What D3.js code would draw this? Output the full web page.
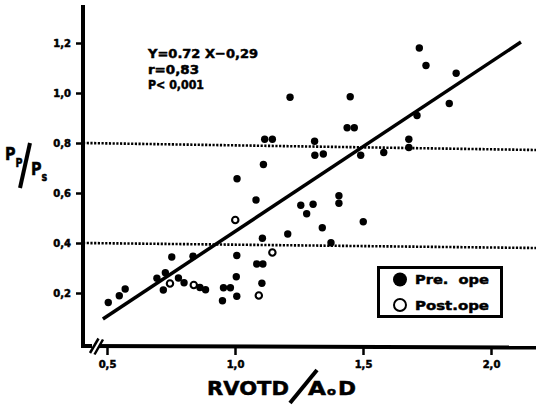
<!DOCTYPE html>
<html>
<head>
<meta charset="utf-8">
<script src="https://cdn.jsdelivr.net/npm/d3@7"></script>
<style>
  body { margin: 0; background: #fff; }
  svg { display: block; }
  text { font-family: "DejaVu Sans", sans-serif; font-weight: bold; fill: #000; stroke: #000; stroke-width: 0.5px; }
</style>
</head>
<body>
<svg id="chart" width="536" height="405"></svg>
<script>
// pre-operative cases (filled dots)
const preX = [0.505, 0.548, 0.571, 0.695, 0.728, 0.720, 0.753, 0.779, 0.801, 0.836,
    0.863, 0.885, 0.951, 0.955, 0.982, 1.007, 1.005, 1.007, 1.008, 1.082,
    1.107, 1.085, 1.109, 1.105, 1.111, 1.116, 1.146, 1.206, 1.215, 1.257,
    1.305, 1.280, 1.311, 1.312, 1.345, 1.341, 1.375, 1.406, 1.406, 1.438,
    1.466, 1.450, 1.491, 1.501, 1.581, 1.679, 1.679, 1.711, 1.720, 1.746,
    1.837, 1.864];
const preY = [0.162, 0.189, 0.216, 0.259, 0.281, 0.212, 0.344, 0.260, 0.241, 0.347,
    0.222, 0.213, 0.169, 0.221, 0.221, 0.350, 0.265, 0.187, 0.657, 0.572,
    0.419, 0.316, 0.316, 0.239, 0.714, 0.815, 0.815, 0.436, 0.983, 0.551,
    0.555, 0.517, 0.807, 0.751, 0.756, 0.461, 0.401, 0.589, 0.559, 0.861,
    0.861, 0.985, 0.751, 0.485, 0.762, 0.815, 0.782, 0.910, 1.180, 1.110,
    0.958, 1.079];

// post-operative cases (open circles)
const postX = [0.746, 0.839, 1.001, 1.093, 1.146];
const postY = [0.238, 0.232, 0.492, 0.190, 0.362];

// regression line as drawn
const fitX = [0.484, 2.117];
const fitY = [0.096, 1.204];

// dotted reference levels (left end, right end)
const refLeft = [0.8, 0.4];
const refRight = [0.772, 0.38];

const xTicks = [0.5, 1.0, 1.5, 2.0];
const yTicks = [0.2, 0.4, 0.6, 0.8, 1.0, 1.2];
const legendLabels = ['Pre.  ope', 'Post.ope'];
const equationLines = ['Y=0.72 X\u22120,29', 'r=0,83', 'P< 0,001'];

const svg = d3.select('#chart');

const plotLeft = 83;
const plotRight = 536;
const plotTop = 7;
const plotBottom = 346;

const x = d3.scaleLinear().domain([0.5, 2.0]).range([107, 491]);
const y = d3.scaleLinear().domain([0, 1.2]).range([343, 43]);

const fmt = d => d3.format('.1f')(d).replace('.', ',');

// y axis
const yAxis = svg.append('g')
    .attr('transform', `translate(${plotLeft},0)`)
    .call(d3.axisLeft(y).tickValues(yTicks).tickSize(7).tickPadding(5).tickFormat(fmt));
yAxis.select('.domain').remove();
yAxis.selectAll('line').attr('stroke', '#000').attr('stroke-width', 2.5);
yAxis.selectAll('text')
    .attr('font-family', '"DejaVu Sans", sans-serif')
    .attr('font-size', 10)
    .attr('font-weight', 'bold');

// x axis
const xAxis = svg.append('g')
    .attr('transform', `translate(0,${plotBottom})`)
    .call(d3.axisBottom(x).tickValues(xTicks).tickSize(9).tickPadding(6).tickFormat(fmt));
xAxis.select('.domain').remove();
xAxis.selectAll('line').attr('stroke', '#000').attr('stroke-width', 2.5);
xAxis.selectAll('text')
    .attr('font-family', '"DejaVu Sans", sans-serif')
    .attr('font-size', 10)
    .attr('font-weight', 'bold');

// heavy axis lines
svg.append('line')
    .attr('x1', plotLeft).attr('y1', plotTop)
    .attr('x2', plotLeft).attr('y2', plotBottom)
    .attr('stroke', '#000').attr('stroke-width', 4).attr('stroke-linecap', 'square');
svg.append('line')
    .attr('x1', plotLeft).attr('y1', plotBottom)
    .attr('x2', plotRight).attr('y2', plotBottom + 1.5)
    .attr('stroke', '#000').attr('stroke-width', 4);

// axis break
svg.append('rect')
    .attr('x', 92).attr('y', plotBottom - 4)
    .attr('width', 7).attr('height', 9)
    .attr('fill', '#fff');
[[90, 353, 98.5, 338.5], [94.5, 354.5, 103, 339.5]].forEach(([a, b, c, d]) => {
    svg.append('line')
        .attr('x1', a).attr('y1', b).attr('x2', c).attr('y2', d)
        .attr('stroke', '#000').attr('stroke-width', 2.5);
});

// dotted reference lines
const xStart = x.invert(plotLeft);
const xEnd = x.invert(plotRight);
refLeft.forEach((v, i) => {
    svg.append('line')
        .attr('x1', x(xStart)).attr('y1', y(v))
        .attr('x2', x(xEnd)).attr('y2', y(refRight[i]))
        .attr('stroke', '#000')
        .attr('stroke-width', 2.6)
        .attr('stroke-dasharray', '2.2 1.5');
});

// regression line
svg.append('path')
    .datum(d3.zip(fitX, fitY))
    .attr('d', d3.line().x(d => x(d[0])).y(d => y(d[1])))
    .attr('stroke', '#000')
    .attr('stroke-width', 3.5)
    .attr('fill', 'none');

// points
svg.append('g').selectAll('circle')
    .data(d3.zip(preX, preY))
    .join('circle')
    .attr('cx', d => x(d[0]))
    .attr('cy', d => y(d[1]))
    .attr('r', 3.7)
    .attr('fill', '#000');

svg.append('g').selectAll('circle')
    .data(d3.zip(postX, postY))
    .join('circle')
    .attr('cx', d => x(d[0]))
    .attr('cy', d => y(d[1]))
    .attr('r', 3.2)
    .attr('fill', '#fff')
    .attr('stroke', '#000')
    .attr('stroke-width', 2.1);

// equation block
const eqWidths = [110, 51, 56];
equationLines.forEach((t, i) => {
    svg.append('text')
        .attr('x', 148)
        .attr('y', 58 + i * 15.5)
        .attr('font-size', i === 0 ? 13 : 12)
        .attr('textLength', eqWidths[i])
        .attr('lengthAdjust', 'spacingAndGlyphs')
        .text(t);
});

// legend
const legend = svg.append('g');
legend.append('rect')
    .attr('x', 378.5).attr('y', 267.5)
    .attr('width', 123).attr('height', 49)
    .attr('fill', '#fff')
    .attr('stroke', '#000')
    .attr('stroke-width', 3);
legendLabels.forEach((t, i) => {
    const cy = 279.5 + i * 25.5;
    legend.append('circle')
        .attr('cx', 400).attr('cy', cy)
        .attr('r', i === 0 ? 7 : 6)
        .attr('fill', i === 0 ? '#000' : '#fff')
        .attr('stroke', '#000')
        .attr('stroke-width', i === 0 ? 0 : 2);
    legend.append('text')
        .attr('x', 415)
        .attr('y', cy + 4.5)
        .attr('font-size', 13)
        .attr('textLength', 74)
        .attr('lengthAdjust', 'spacingAndGlyphs')
        .style('white-space', 'pre')
        .text(t);
});

// x axis title: RVOTD / AoD
svg.append('text')
    .attr('x', 207).attr('y', 395)
    .attr('font-size', 19)
    .attr('textLength', 82)
    .attr('lengthAdjust', 'spacingAndGlyphs')
    .text('RVOTD');
svg.append('line')
    .attr('x1', 290).attr('y1', 403)
    .attr('x2', 317).attr('y2', 370)
    .attr('stroke', '#000').attr('stroke-width', 4);
svg.append('text')
    .attr('x', 308).attr('y', 395)
    .attr('font-size', 19)
    .attr('textLength', 18)
    .attr('lengthAdjust', 'spacingAndGlyphs')
    .text('A');
svg.append('text')
    .attr('x', 327).attr('y', 395)
    .attr('font-size', 11)
    .attr('textLength', 9)
    .attr('lengthAdjust', 'spacingAndGlyphs')
    .text('o');
svg.append('text')
    .attr('x', 338).attr('y', 395)
    .attr('font-size', 19)
    .attr('textLength', 18)
    .attr('lengthAdjust', 'spacingAndGlyphs')
    .text('D');

// y axis title: Pp / Ps  (main letter + subscript in one text each)
const pp = svg.append('text')
    .attr('transform', 'translate(5,160) scale(0.8,1)');
pp.append('tspan').attr('font-size', 18).text('P');
pp.append('tspan').attr('font-size', 12).attr('dy', 7).text('P');

svg.append('line')
    .attr('x1', 20).attr('y1', 188)
    .attr('x2', 30).attr('y2', 143)
    .attr('stroke', '#000').attr('stroke-width', 4);

const ps = svg.append('text')
    .attr('transform', 'translate(31,175) scale(0.8,1)');
ps.append('tspan').attr('font-size', 18).text('P');
ps.append('tspan').attr('font-size', 12).attr('dy', 6).text('s');
</script>
</body>
</html>
